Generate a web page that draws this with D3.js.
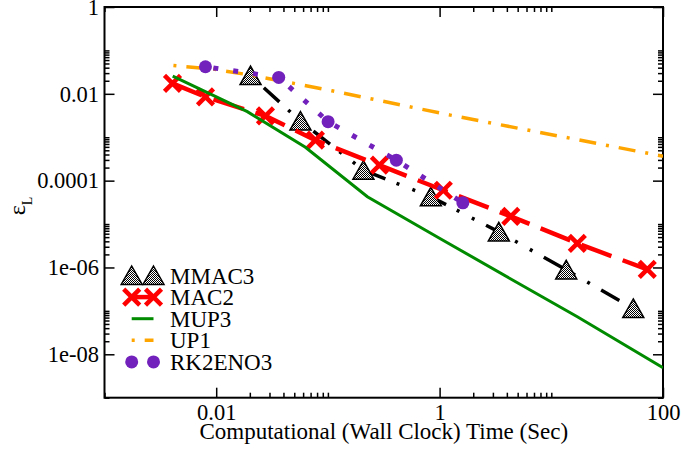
<!DOCTYPE html>
<html><head><meta charset="utf-8">
<script src="https://cdn.jsdelivr.net/npm/d3@7"></script>
<style>html,body{margin:0;padding:0;background:#fff;}</style>
</head><body><div id="chart"></div>
<script>
// ---- data ----
const seriesNames = ["MMAC3", "MAC2", "MUP3", "UP1", "RK2ENO3"];
const mmac3X = [0.0203, 0.0568, 0.208, 0.835, 3.39, 13.6, 54.2];
const mmac3Y = [0.0263, 2.35e-3, 1.74e-4, 4.25e-5, 6.6e-6, 8.8e-7, 1.14e-7];
const mac2X = [0.00406, 0.00802, 0.0276, 0.0773, 0.289, 1.08, 4.34, 17.1, 72.3];
const mac2Y = [0.0174, 0.00849, 0.00309, 8.55e-4, 2.27e-4, 6.0e-5, 1.51e-5, 3.6e-6, 9.0e-7];
const mup3X = [0.00408, 0.0190, 0.0629, 0.2257, 1.016, 4.30, 17.1, 100];
const mup3Y = [0.0256, 0.00388, 5.89e-4, 4.25e-5, 4.6e-6, 5.5e-7, 7.3e-8, 4.9e-9];
const up1X = [0.00414, 0.00945, 0.0215, 0.109, 1.248, 100];
const up1Y = [0.0447, 0.0371, 0.0263, 0.01173, 0.00323, 3.66e-4];
const rkX = [0.00801, 0.0363, 0.1004, 0.410, 1.615];
const rkY = [0.0420, 0.0239, 0.00228, 2.96e-4, 3.09e-5];

const xTickValues = [0.01, 1, 100];
const xTickLabels = ["0.01", "1", "100"];
const yTickValues = [1, 0.01, 1e-4, 1e-6, 1e-8];
const yTickLabels = ["1", "0.01", "0.0001", "1e-06", "1e-08"];
const xTitle = "Computational (Wall Clock) Time (Sec)";

// ---- layout ----
const W = 681, H = 450;
const L = 104.5, R = 663, T = 7, B = 397.7;
const FONT = '"Liberation Serif"';

const x = d3.scaleLog().domain([0.001, 100]).range([L, R]);
const y = d3.scaleLog().domain([1e-9, 1]).range([B, T]);

const svg = d3.select("#chart").append("svg").attr("width", W).attr("height", H);
const defs = svg.append("defs");
const pat = defs.append("pattern").attr("id", "chk").attr("width", 2).attr("height", 2)
  .attr("patternUnits", "userSpaceOnUse");
pat.append("rect").attr("width", 2).attr("height", 2).attr("fill", "#fff");
pat.append("rect").attr("x", 0).attr("y", 0).attr("width", 1).attr("height", 1).attr("fill", "#000");
pat.append("rect").attr("x", 1).attr("y", 1).attr("width", 1).attr("height", 1).attr("fill", "#000");
defs.append("clipPath").attr("id", "clip").append("rect")
  .attr("x", L).attr("y", T).attr("width", R - L).attr("height", B - T);

// minor ticks: k * major for k = 2..10
function minors(majors, lo, hi) {
  const out = [];
  majors.forEach(m => { for (let k = 2; k <= 10; k++) { const v = m * k; if (v >= lo && v <= hi) out.push(v); } });
  return out;
}
const xMajors = [0.0001, 0.01, 1, 100];
const yMajors = [1e-10, 1e-8, 1e-6, 1e-4, 1e-2, 1];
const xMin = minors(xMajors, 0.001, 100).filter(v => xTickValues.indexOf(v) < 0);
const yMin = minors(yMajors, 1e-9, 1).filter(v => yTickValues.indexOf(v) < 0);

function styleAxis(g, keepText) {
  g.attr("font-family", null).attr("font-size", null);
  g.select(".domain").remove();
  g.selectAll("line").attr("stroke", "#000").attr("stroke-width", 1.5);
  if (keepText) {
    g.selectAll("text").style("font-family", FONT).style("font-size", "22.5px").attr("fill", "#000");
  } else {
    g.selectAll("text").remove();
  }
}
// bottom
svg.append("g").attr("transform", `translate(0,${B})`)
  .call(d3.axisBottom(x).tickValues(xTickValues).tickFormat((d, i) => xTickLabels[i]).tickSize(-10).tickPadding(6)).call(styleAxis, true);
svg.append("g").attr("transform", `translate(0,${B})`)
  .call(d3.axisBottom(x).tickValues(xMin).tickSize(-5)).call(styleAxis, false);
// top
svg.append("g").attr("transform", `translate(0,${T})`)
  .call(d3.axisTop(x).tickValues(xTickValues).tickSize(-10)).call(styleAxis, false);
svg.append("g").attr("transform", `translate(0,${T})`)
  .call(d3.axisTop(x).tickValues(xMin).tickSize(-5)).call(styleAxis, false);
// left
svg.append("g").attr("transform", `translate(${L},0)`)
  .call(d3.axisLeft(y).tickValues(yTickValues).tickFormat((d, i) => yTickLabels[i]).tickSize(-10).tickPadding(5.5)).call(styleAxis, true);
svg.append("g").attr("transform", `translate(${L},0)`)
  .call(d3.axisLeft(y).tickValues(yMin).tickSize(-5)).call(styleAxis, false);
// right
svg.append("g").attr("transform", `translate(${R},0)`)
  .call(d3.axisRight(y).tickValues(yTickValues).tickSize(-10)).call(styleAxis, false);
svg.append("g").attr("transform", `translate(${R},0)`)
  .call(d3.axisRight(y).tickValues(yMin).tickSize(-5)).call(styleAxis, false);

// frame
svg.append("rect").attr("x", L).attr("y", T).attr("width", R - L).attr("height", B - T)
  .attr("fill", "none").attr("stroke", "#000").attr("stroke-width", 2);

// titles
svg.append("text").attr("x", (L + R) / 2).attr("y", 438.5).attr("text-anchor", "middle")
  .style("font-family", FONT).style("font-size", "23px").text(xTitle);
const yt = svg.append("text").attr("transform", "translate(25,206) rotate(-90)")
  .attr("text-anchor", "middle").style("font-family", FONT).style("font-size", "24px");
yt.append("tspan").text("ε");
yt.append("tspan").style("font-size", "14px").attr("dy", 7).text("L");

// ---- series ----
const plot = svg.append("g").attr("clip-path", "url(#clip)");
const lineGen = d3.line().x(d => x(d[0])).y(d => y(d[1]));
const zip = (a, b) => a.map((v, i) => [v, b[i]]);

const COLORS = { mmac3: "#000", mac2: "#ff0000", mup3: "#008b00", up1: "#ffa500", rk: "#7221bc" };
const triPath = (cx, cy) => `M${cx},${cy - 9.5}L${cx + 10.5},${cy + 9}L${cx - 10.5},${cy + 9}Z`;

function drawTri(g, cx, cy) {
  g.append("path").attr("d", triPath(cx, cy)).attr("fill", "url(#chk)").attr("stroke", "#000").attr("stroke-width", 1.5);
}
function drawX(g, cx, cy) {
  const s = 8;
  g.append("path").attr("d", `M${cx - s},${cy - s}L${cx + s},${cy + s}M${cx - s},${cy + s}L${cx + s},${cy - s}`)
    .attr("stroke", COLORS.mac2).attr("stroke-width", 4.5).attr("fill", "none");
}
function drawDot(g, cx, cy) {
  g.append("circle").attr("cx", cx).attr("cy", cy).attr("r", 6.5).attr("fill", COLORS.rk);
}

// MMAC3
const d1 = zip(mmac3X, mmac3Y);
plot.append("path").attr("d", lineGen(d1)).attr("fill", "none").attr("stroke", COLORS.mmac3)
  .attr("stroke-width", 3.5).attr("stroke-dasharray", "21,12,3,14,3,13").attr("stroke-dashoffset", 48);
d1.forEach(d => drawTri(plot, x(d[0]), y(d[1])));
// MAC2
const d2 = zip(mac2X, mac2Y);
plot.append("path").attr("d", lineGen(d2)).attr("fill", "none").attr("stroke", COLORS.mac2)
  .attr("stroke-width", 4.5).attr("stroke-dasharray", "32,12");
d2.forEach(d => drawX(plot, x(d[0]), y(d[1])));
// MUP3
plot.append("path").attr("d", lineGen(zip(mup3X, mup3Y))).attr("fill", "none").attr("stroke", COLORS.mup3)
  .attr("stroke-width", 3);
// UP1
plot.append("path").attr("d", lineGen(zip(up1X, up1Y))).attr("fill", "none").attr("stroke", COLORS.up1)
  .attr("stroke-width", 3.5).attr("stroke-dasharray", "3,10,17,10");
// RK2ENO3
const d5 = zip(rkX, rkY);
plot.append("path").attr("d", lineGen(d5)).attr("fill", "none").attr("stroke", COLORS.rk)
  .attr("stroke-width", 5).attr("stroke-dasharray", "5,15").attr("stroke-dashoffset", -8);
d5.forEach(d => drawDot(plot, x(d[0]), y(d[1])));

// ---- legend ----
const lg = svg.append("g");
const lx1 = 131.7, lx2 = 153.5, ltx = 170;
seriesNames.forEach((name, i) => {
  const base = 283.5 + 21.6 * i, cy = base - 8;
  if (i === 0) { drawTri(lg, lx1, cy); drawTri(lg, lx2, cy); }
  if (i === 1) {
    lg.append("line").attr("x1", lx1).attr("x2", lx2).attr("y1", cy).attr("y2", cy).attr("stroke", COLORS.mac2).attr("stroke-width", 4.5);
    drawX(lg, lx1, cy); drawX(lg, lx2, cy);
  }
  if (i === 2) lg.append("line").attr("x1", lx1).attr("x2", lx2).attr("y1", cy).attr("y2", cy).attr("stroke", COLORS.mup3).attr("stroke-width", 3);
  if (i === 3) lg.append("line").attr("x1", lx1).attr("x2", lx2).attr("y1", cy).attr("y2", cy).attr("stroke", COLORS.up1)
    .attr("stroke-width", 3.5).attr("stroke-dasharray", "3,10,17,10");
  if (i === 4) { drawDot(lg, lx1, cy); drawDot(lg, lx2, cy); }
  lg.append("text").attr("x", ltx).attr("y", base).style("font-family", FONT).style("font-size", "23px").text(name);
});
</script>
</body></html>
